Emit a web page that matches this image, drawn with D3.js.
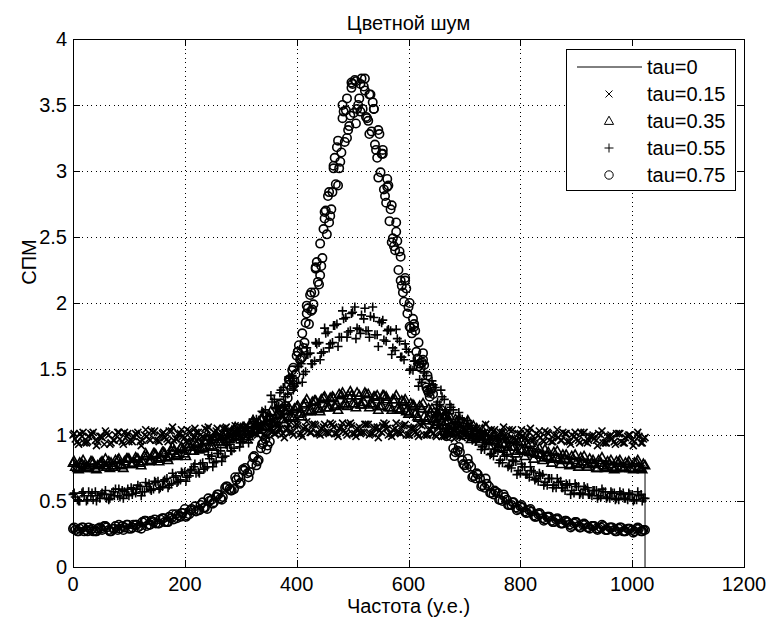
<!DOCTYPE html>
<html>
<head>
<meta charset="utf-8">
<script src="https://cdn.jsdelivr.net/npm/d3@7"></script>
<style>
  body { margin: 0; background: #fff; }
  text { font-family: "Liberation Sans", Arial, sans-serif; fill: #000; }
</style>
</head>
<body>
<div id="chart"></div>
<script>
// frequency bins, every 8th one plus the last
const freq = [0,8,16,24,32,40,48,56,64,72,80,88,96,104,112,120,128,136,144,152,160,168,176,184,192,200,208,216,224,232,240,248,
  256,264,272,280,288,296,304,312,320,328,336,344,352,360,368,376,384,392,400,408,416,424,432,440,448,456,464,472,480,488,496,504,
  512,520,528,536,544,552,560,568,576,584,592,600,608,616,624,632,640,648,656,664,672,680,688,696,704,712,720,728,736,744,752,760,
  768,776,784,792,800,808,816,824,832,840,848,856,864,872,880,888,896,904,912,920,928,936,944,952,960,968,976,984,992,1000,1008,1016,1023];
// the bins in between
const freqMid = [4,12,20,28,36,44,52,60,68,76,84,92,100,108,116,124,132,140,148,156,164,172,180,188,196,204,212,220,228,236,244,252,
  260,268,276,284,292,300,308,316,324,332,340,348,356,364,372,380,388,396,404,412,420,428,436,444,452,460,468,476,484,492,500,508,
  516,524,532,540,548,556,564,572,580,588,596,604,612,620,628,636,644,652,660,668,676,684,692,700,708,716,724,732,740,748,756,764,
  772,780,788,796,804,812,820,828,836,844,852,860,868,876,884,892,900,908,916,924,932,940,948,956,964,972,980,988,996,1004,1012,1020];
const freqEdge = [2,10,18,26,34,42,50,58,66,74,82,90,98,106,114,122,130,138,146,154,162,170,178,186,194,202,210,218,226,234,242,250,
  258,266,274,282,290,298,306,314,322,330,338,346,354,362,370,378,386,394,402,410,418,426,434,442,450,458,466,474,482,490,498,506,
  514,522,530,538,546,554,562,570,578,586,594,602,610,618,626,634,642,650,658,666,674,682,690,698,706,714,722,730,738,746,754,762,
  770,778,786,794,802,810,818,826,834,842,850,858,866,874,882,890,898,906,914,922,930,938,946,954,962,970,978,986,994,1002,1010,1018];
// extra bins around the tau=0.75 peak
const freqPeak = [386,390,394,398,402,406,410,414,418,422,426,430,434,438,442,446,450,454,458,462,466,470,474,478,482,486,490,494,498,502,506,510,
  514,518,522,526,530,534,538,542,546,550,554,558,562,566,570,574,578,582,586,590,594,598,602,606,610,614,618,622,626,630,634,638];

// tau = 0.15  (x)
const tau015 = [1.00,0.95,0.99,0.94,1.01,0.96,0.99,0.93,1.00,0.96,1.02,0.95,0.99,0.96,1.01,0.95,1.00,0.97,1.02,0.96,1.01,0.97,1.03,0.97,
  1.01,0.98,1.03,0.98,1.02,0.99,1.04,0.98,1.03,0.99,1.05,0.99,1.03,1.00,1.06,1.00,1.04,1.01,1.07,1.00,1.05,1.01,1.07,1.01,1.05,1.02,
  1.08,1.01,1.06,1.02,1.08,1.01,1.06,1.02,1.08,1.01,1.06,1.02,1.09,1.01,1.06,
  1.02,1.08,1.01,1.06,1.02,1.08,1.01,1.05,1.02,1.07,1.00,1.05,1.01,1.07,1.00,1.04,1.00,1.06,0.99,1.04,1.00,1.05,0.98,1.03,0.99,1.04,
  0.98,1.02,0.98,1.03,0.97,1.02,0.97,1.03,0.96,1.01,0.97,1.02,0.96,1.00,0.96,1.02,0.95,1.00,0.96,1.01,0.95,0.99,0.96,1.01,0.94,0.99,
  0.96,1.00,0.94,0.99,0.95,1.01,0.94,0.99,0.96,1.00,0.94,0.98];
const tau015Mid = [0.97,1.01,0.94,0.99,1.02,0.95,0.98,1.01,0.94,1.00,0.97,1.02,0.95,0.99,1.02,0.96,0.99,1.03,0.96,1.00,
  0.98,1.03,0.96,1.01,0.99,1.04,0.97,1.02,1.00,1.05,0.98,1.02,1.00,1.05,0.98,1.03,1.01,1.06,0.99,1.03,
  1.01,1.07,1.00,1.04,1.02,1.08,1.00,1.04,1.02,1.07,1.00,1.05,1.03,1.08,1.01,1.05,1.02,1.09,1.01,1.05,1.03,1.08,1.01,1.05,
  1.02,1.08,1.01,1.05,1.03,1.09,1.00,1.04,1.02,1.07,1.00,1.05,1.02,1.08,1.00,1.04,1.01,1.06,0.99,1.03,
  1.01,1.06,0.99,1.03,1.00,1.05,0.98,1.02,1.00,1.04,0.97,1.02,0.99,1.04,0.97,1.01,0.99,1.03,0.96,1.01,
  0.98,1.03,0.96,1.00,0.98,1.02,0.95,1.00,0.97,1.02,0.95,0.99,0.97,1.01,0.94,0.99,0.97,1.01,0.95,0.98,1.00,0.95,0.99,0.97];
const tau015Edge = [1.01,0.93,1.02,0.95,1.00,0.92,0.99,1.03,0.93,0.96,1.02,0.93,1.01,0.95,1.00,0.92,
  1.04,0.96,1.03,0.95,1.02,0.95,1.06,0.97,1.04,0.95,1.02,1.05,0.97,0.98,1.06,0.97,
  1.05,0.98,1.06,1.00,1.07,0.99,1.05,0.97,1.08,1.00,1.06,0.99,1.09,1.01,1.05,0.98,
  1.08,1.00,1.07,0.99,1.10,1.02,1.07,1.00,1.08,1.01,1.06,0.99,1.09,1.00,1.07,0.99,
  1.01,1.08,1.00,1.06,0.98,1.07,1.05,0.99,1.09,1.01,1.08,1.00,1.06,0.99,1.09,1.00,
  1.07,0.99,1.08,1.01,1.06,0.97,1.07,1.00,1.07,0.99,1.05,0.97,1.08,0.99,1.04,0.97,
  1.06,0.97,1.04,0.96,1.04,0.98,1.05,0.97,1.03,0.95,1.01,0.95,1.04,0.96,1.01,0.93,
  1.02,0.94,1.02,0.96,1.00,0.92,1.03,0.94,1.00,0.93,1.01,0.94,1.00,0.92,1.02,0.94];

// tau = 0.35  (triangles)
const tau035 = [0.79,0.75,0.78,0.76,0.80,0.75,0.78,0.77,0.80,0.76,0.81,0.77,0.82,0.78,0.83,0.79,0.84,0.80,0.86,0.82,0.87,0.83,0.88,0.85,
  0.90,0.86,0.93,0.88,0.94,0.91,0.96,0.92,0.99,0.95,1.01,0.97,1.04,0.99,1.06,1.02,1.09,1.04,1.12,1.07,1.14,1.09,1.17,1.12,1.19,1.14,
  1.21,1.17,1.24,1.18,1.26,1.20,1.28,1.21,1.29,1.23,1.30,1.24,1.33,1.24,1.30,
  1.25,1.31,1.23,1.30,1.22,1.29,1.21,1.27,1.19,1.25,1.16,1.23,1.14,1.20,1.11,1.17,1.08,1.14,1.05,1.11,1.02,1.08,1.00,1.05,0.97,1.02,
  0.95,0.99,0.92,0.96,0.90,0.94,0.88,0.91,0.86,0.89,0.84,0.87,0.82,0.86,0.81,0.84,0.79,0.83,0.78,0.82,0.77,0.81,0.76,0.80,0.76,0.79,
  0.75,0.79,0.75,0.78,0.74,0.79,0.75,0.78,0.75,0.79,0.75,0.77];
const tau035Mid = [0.76,0.79,0.77,0.75,0.79,0.77,0.80,0.76,0.79,0.81,0.78,0.80,0.82,0.79,0.82,0.80,0.84,0.81,0.85,0.83,0.86,0.84,0.88,0.86,
  0.89,0.91,0.88,0.93,0.90,0.95,0.92,0.97,0.95,1.00,0.97,1.03,0.99,1.05,1.01,1.08,1.04,1.10,1.06,1.13,1.09,1.15,1.12,1.18,1.14,1.20,
  1.16,1.23,1.18,1.25,1.20,1.27,1.21,1.28,1.22,1.31,1.23,1.30,1.24,1.32,
  1.23,1.31,1.24,1.29,1.22,1.30,1.21,1.27,1.20,1.26,1.18,1.24,1.16,1.22,1.14,1.20,1.12,1.17,1.10,1.15,1.07,1.12,1.05,1.09,1.02,1.07,
  1.00,1.04,0.97,1.02,0.95,0.99,0.93,0.97,0.91,0.95,0.89,0.93,0.87,0.90,0.85,0.89,0.83,0.87,0.82,0.85,0.81,0.84,0.79,0.83,0.78,0.82,
  0.78,0.81,0.77,0.80,0.76,0.80,0.76,0.79,0.75,0.79,0.76,0.78];
const tau035Edge = [0.80,0.74,0.81,0.75,0.80,0.74,0.79,0.82,0.75,0.77,0.82,0.75,0.82,0.78,0.82,0.77,
  0.86,0.81,0.86,0.80,0.87,0.81,0.91,0.84,0.91,0.84,0.91,0.95,0.89,0.90,0.99,0.91,
  0.99,0.93,1.02,0.98,1.06,0.99,1.06,0.99,1.11,1.04,1.12,1.06,1.18,1.10,1.16,1.09,
  1.21,1.13,1.22,1.14,1.27,1.19,1.26,1.18,1.29,1.21,1.28,1.19,1.32,1.22,1.30,1.21,
  1.23,1.32,1.21,1.29,1.19,1.30,1.27,1.19,1.30,1.20,1.27,1.17,1.22,1.13,1.24,1.13,
  1.20,1.10,1.18,1.10,1.14,1.03,1.12,1.04,1.11,1.00,1.05,0.97,1.06,0.96,1.00,0.93,
  1.00,0.91,0.96,0.88,0.95,0.88,0.94,0.86,0.90,0.83,0.87,0.82,0.88,0.81,0.85,0.78,
  0.85,0.78,0.84,0.78,0.81,0.75,0.83,0.76,0.81,0.75,0.81,0.75,0.80,0.74,0.81,0.74];

// tau = 0.55  (plus)
const tau055 = [0.55,0.51,0.56,0.50,0.54,0.57,0.52,0.55,0.51,0.57,0.54,0.58,0.55,0.60,0.56,0.61,0.57,0.63,0.59,0.65,0.61,0.67,0.63,0.69,
  0.66,0.72,0.69,0.76,0.72,0.79,0.76,0.84,0.80,0.88,0.84,0.93,0.90,0.99,0.95,1.05,1.01,1.12,1.08,1.19,1.15,1.27,1.22,1.36,1.31,1.45,
  1.39,1.54,1.48,1.62,1.56,1.70,1.63,1.78,1.70,1.84,1.74,1.89,1.79,1.97,1.80,
  1.88,1.79,1.97,1.76,1.85,1.71,1.79,1.64,1.71,1.57,1.63,1.49,1.54,1.40,1.45,1.32,1.36,1.23,1.27,1.16,1.19,1.08,1.12,1.01,1.05,0.95,
  0.99,0.89,0.93,0.84,0.88,0.79,0.84,0.75,0.80,0.71,0.76,0.68,0.72,0.65,0.70,0.62,0.67,0.60,0.65,0.58,0.63,0.56,0.61,0.55,0.60,0.54,
  0.58,0.53,0.57,0.52,0.56,0.51,0.56,0.51,0.55,0.51,0.55,0.52];
const tau055Mid = [0.53,0.50,0.54,0.57,0.51,0.54,0.56,0.52,0.55,0.59,0.53,0.57,0.54,0.59,0.62,0.57,0.61,0.58,0.64,0.60,0.66,0.62,0.68,0.65,
  0.71,0.68,0.74,0.71,0.78,0.75,0.82,0.79,0.86,0.83,0.92,0.88,0.97,0.94,1.03,1.00,1.10,1.06,1.17,1.14,1.25,1.21,1.34,1.29,
  1.43,1.37,1.52,1.46,1.61,1.54,1.69,1.62,1.77,1.69,1.83,1.74,1.88,1.78,1.93,1.81,
  1.91,1.79,1.90,1.76,1.86,1.72,1.80,1.66,1.73,1.59,1.65,1.50,1.56,1.42,1.47,1.33,1.38,1.25,1.29,1.17,1.21,1.10,1.13,1.03,1.07,0.97,
  1.00,0.91,0.94,0.86,0.89,0.81,0.84,0.77,0.80,0.73,0.76,0.70,0.73,0.67,0.69,0.64,0.67,0.62,0.64,0.60,0.62,0.58,0.61,0.56,0.59,0.55,
  0.58,0.54,0.57,0.53,0.56,0.52,0.55,0.52,0.55,0.51,0.54,0.52];
const tau055Edge = [0.56,0.50,0.57,0.51,0.56,0.50,0.55,0.58,0.52,0.54,0.59,0.52,0.59,0.55,0.59,0.54,
  0.64,0.59,0.65,0.59,0.65,0.60,0.71,0.64,0.72,0.65,0.73,0.78,0.71,0.74,0.85,0.76,
  0.86,0.80,0.93,0.88,1.00,0.91,1.03,0.94,1.12,1.04,1.18,1.10,1.30,1.20,1.32,1.23,
  1.44,1.34,1.52,1.40,1.66,1.54,1.70,1.57,1.81,1.66,1.83,1.67,1.94,1.74,1.92,1.73,
  1.77,1.96,1.74,1.89,1.67,1.87,1.79,1.61,1.80,1.59,1.69,1.49,1.56,1.37,1.54,1.33,
  1.41,1.23,1.34,1.19,1.23,1.06,1.17,1.03,1.11,0.96,1.01,0.89,1.00,0.85,0.89,0.79,
  0.87,0.76,0.81,0.70,0.78,0.70,0.76,0.66,0.71,0.62,0.67,0.60,0.67,0.60,0.63,0.55,
  0.63,0.55,0.61,0.55,0.58,0.52,0.59,0.52,0.57,0.51,0.57,0.52,0.56,0.50,0.57,0.50];

// tau = 0.75  (circles)
const tau075 = [0.29,0.27,0.30,0.28,0.28,0.27,0.30,0.31,0.28,0.29,0.28,0.31,0.32,0.29,0.32,0.31,0.35,0.32,0.34,0.33,0.37,0.34,0.37,0.40,
  0.38,0.44,0.40,0.43,0.43,0.49,0.44,0.51,0.53,0.52,0.60,0.59,0.59,0.68,0.74,0.71,0.78,0.77,0.90,0.97,0.95,1.06,1.23,1.19,1.28,1.49,
  1.60,1.58,1.85,2.06,2.08,2.14,2.56,2.81,2.84,3.18,3.14,3.46,3.42,3.69,3.55,
  3.64,3.38,3.52,3.10,3.13,2.76,2.71,2.40,2.39,2.01,1.97,1.88,1.58,1.55,1.36,1.35,1.17,1.16,1.02,1.03,0.90,0.88,0.81,0.75,0.76,0.67,
  0.67,0.60,0.61,0.55,0.56,0.50,0.51,0.47,0.45,0.46,0.42,0.43,0.39,0.40,0.37,0.38,0.35,0.36,0.33,0.35,0.32,0.33,0.31,0.32,0.30,0.31,
  0.29,0.30,0.28,0.30,0.28,0.29,0.27,0.29,0.28,0.29,0.27,0.28];
const tau075Mid = [0.28,0.29,0.27,0.30,0.27,0.29,0.28,0.30,0.27,0.31,0.29,0.30,0.29,0.32,0.30,0.34,0.31,0.35,0.33,0.36,0.34,0.38,0.36,0.39,
  0.41,0.39,0.44,0.42,0.47,0.45,0.50,0.49,0.55,0.53,0.61,0.58,0.66,0.64,0.75,0.72,0.84,0.81,0.94,0.92,1.07,1.05,1.24,1.22,
  1.42,1.41,1.68,1.66,1.96,1.95,2.31,2.28,2.70,2.66,3.10,3.02,3.45,3.31,3.66,3.47,
  3.70,3.41,3.58,3.20,3.28,2.86,2.89,2.49,2.47,2.13,2.11,1.81,1.79,1.54,1.53,1.32,1.31,1.14,1.13,0.99,0.99,0.87,0.87,0.77,0.78,0.69,
  0.70,0.62,0.63,0.56,0.57,0.51,0.53,0.47,0.49,0.44,0.45,0.41,0.42,0.38,0.40,0.36,0.38,0.34,0.36,0.33,0.34,0.31,0.34,0.30,0.32,0.29,
  0.31,0.29,0.31,0.28,0.30,0.27,0.30,0.27,0.29,0.27,0.29,0.28];
const tau075Edge = [0.30,0.27,0.30,0.27,0.29,0.27,0.29,0.31,0.27,0.29,0.32,0.28,0.32,0.30,0.32,0.29,
  0.35,0.32,0.36,0.33,0.37,0.34,0.40,0.37,0.41,0.38,0.43,0.46,0.43,0.45,0.52,0.48,
  0.55,0.51,0.61,0.58,0.68,0.63,0.73,0.68,0.83,0.80,0.93,0.89,1.09,1.04,1.19,1.16,
  1.42,1.38,1.63,1.59,1.98,1.94,2.27,2.21,2.69,2.61,3.02,2.89,3.50,3.25,3.67,3.36,
  3.45,3.70,3.28,3.47,2.95,3.16,2.88,2.46,2.61,2.17,2.19,1.82,1.82,1.52,1.62,1.34,
  1.36,1.13,1.19,1.01,1.02,0.84,0.91,0.78,0.82,0.68,0.71,0.61,0.67,0.56,0.58,0.51,
  0.55,0.47,0.49,0.43,0.47,0.41,0.44,0.38,0.41,0.35,0.38,0.34,0.37,0.33,0.35,0.30,
  0.34,0.30,0.33,0.30,0.31,0.28,0.32,0.28,0.30,0.27,0.30,0.27,0.29,0.26,0.30,0.27];
const tau075Peak = [1.38,1.35,1.51,1.46,1.63,1.57,1.77,1.70,1.92,1.84,2.08,1.99,2.26,2.16,2.45,2.34,2.64,2.52,2.84,2.71,3.04,2.90,3.23,3.07,
  3.40,3.22,3.55,3.34,3.63,3.44,3.68,3.50,
  3.66,3.47,3.61,3.40,3.58,3.30,3.47,3.16,3.31,2.99,3.13,2.81,2.94,2.62,2.74,2.43,2.54,2.25,2.35,2.08,2.17,1.92,2.00,1.77,
  1.84,1.63,1.70,1.51,1.57,1.39,1.45,1.29];

// tau = 0 (solid line, hidden under the markers except the drop at the end)
const tau0X = [0,128,256,384,512,640,768,896,1023,1023];
const tau0Y = [0.77,0.82,0.96,1.16,1.27,1.16,0.96,0.82,0.77,0];

const xTicks = [0,200,400,600,800,1000,1200];
const yTicks = [0,0.5,1,1.5,2,2.5,3,3.5,4];
const legendLabels = ["tau=0","tau=0.15","tau=0.35","tau=0.55","tau=0.75"];

const W = 769, H = 622;
const mLeft = 73, mRight = 744, mTop = 39, mBottom = 567;

const svg = d3.select("#chart").append("svg")
  .attr("width", W).attr("height", H);

svg.append("rect").attr("width", W).attr("height", H).attr("fill", "#fff");

const x = d3.scaleLinear().domain([0, 1200]).range([mLeft, mRight]);
const y = d3.scaleLinear().domain([0, 4]).range([mBottom, mTop]);

// grid
const grid = svg.append("g").attr("stroke", "#000").attr("stroke-width", 1)
  .attr("stroke-dasharray", "1,3.5").attr("shape-rendering", "crispEdges");
grid.selectAll(".gx").data(xTicks.slice(1, -1)).join("line")
  .attr("class", "gx")
  .attr("x1", d => Math.round(x(d)) + 0.5).attr("x2", d => Math.round(x(d)) + 0.5)
  .attr("y1", mBottom).attr("y2", mTop);
grid.selectAll(".gy").data(yTicks.slice(1, -1)).join("line")
  .attr("class", "gy")
  .attr("y1", d => Math.round(y(d)) + 0.5).attr("y2", d => Math.round(y(d)) + 0.5)
  .attr("x1", mLeft).attr("x2", mRight);

// marker shapes
function markerPath(type) {
  if (type === "x") return "M-3.5,-3.5L3.5,3.5M-3.5,3.5L3.5,-3.5";
  if (type === "tri") return "M0,-4.8L4.6,3.4L-4.6,3.4Z";
  if (type === "plus") return "M-4.5,0L4.5,0M0,-4.5L0,4.5";
  return "M4.2,0A4.2,4.2 0 1,1 -4.2,0A4.2,4.2 0 1,1 4.2,0Z";
}

const plotArea = svg.append("g");

// tau=0 line
const line = d3.line().x(d => x(d[0])).y(d => y(d[1]));
plotArea.append("path")
  .datum(tau0X.map((v, i) => [v, tau0Y[i]]))
  .attr("d", line).attr("fill", "none").attr("stroke", "#000").attr("stroke-width", 1);

function pairs(xs, vs) {
  return xs.map((f, i) => [f, vs[i]]).filter(d => d[1] !== undefined);
}

const series = [
  { pts: pairs(freq, tau015).concat(pairs(freqMid, tau015Mid), pairs(freqEdge, tau015Edge)), m: "x" },
  { pts: pairs(freq, tau035).concat(pairs(freqMid, tau035Mid), pairs(freqEdge, tau035Edge)), m: "tri" },
  { pts: pairs(freq, tau055).concat(pairs(freqMid, tau055Mid), pairs(freqEdge, tau055Edge)), m: "plus" },
  { pts: pairs(freq, tau075).concat(pairs(freqMid, tau075Mid), pairs(freqEdge, tau075Edge), pairs(freqPeak, tau075Peak)), m: "o" }
];

series.forEach(s => {
  plotArea.append("g").selectAll("path")
    .data(s.pts.sort((a, b) => a[0] - b[0]))
    .join("path")
    .attr("transform", d => `translate(${x(d[0])},${y(d[1])})`)
    .attr("d", markerPath(s.m))
    .attr("fill", "none").attr("stroke", "#000").attr("stroke-width", 1.6);
});

// axes box and ticks
const axG = svg.append("g").attr("shape-rendering", "crispEdges");
axG.append("rect").attr("x", mLeft + 0.5).attr("y", mTop + 0.5)
  .attr("width", mRight - mLeft).attr("height", mBottom - mTop)
  .attr("fill", "none").attr("stroke", "#000");

const tl = 7;
xTicks.forEach(t => {
  const px = Math.round(x(t)) + 0.5;
  axG.append("line").attr("x1", px).attr("x2", px).attr("y1", mBottom).attr("y2", mBottom - tl).attr("stroke", "#000");
  axG.append("line").attr("x1", px).attr("x2", px).attr("y1", mTop).attr("y2", mTop + tl).attr("stroke", "#000");
});
yTicks.forEach(t => {
  const py = Math.round(y(t)) + 0.5;
  axG.append("line").attr("x1", mLeft).attr("x2", mLeft + tl).attr("y1", py).attr("y2", py).attr("stroke", "#000");
  axG.append("line").attr("x1", mRight).attr("x2", mRight - tl).attr("y1", py).attr("y2", py).attr("stroke", "#000");
});

svg.append("g").selectAll("text").data(xTicks).join("text")
  .attr("x", d => x(d)).attr("y", 591)
  .attr("text-anchor", "middle").attr("font-size", 20)
  .text(d => d);

svg.append("g").selectAll("text").data(yTicks).join("text")
  .attr("x", 67).attr("y", d => y(d)).attr("dy", "0.36em")
  .attr("text-anchor", "end").attr("font-size", 20)
  .text(d => d);

// titles
svg.append("text").attr("x", (mLeft + mRight) / 2).attr("y", 30)
  .attr("text-anchor", "middle").attr("font-size", 20).text("Цветной шум");
svg.append("text").attr("x", (mLeft + mRight) / 2).attr("y", 613)
  .attr("text-anchor", "middle").attr("font-size", 20).text("Частота (у.е.)");
svg.append("text").attr("transform", "translate(36,262) rotate(-90)")
  .attr("text-anchor", "middle").attr("font-size", 20).text("СПМ");

// legend
const lg = svg.append("g");
lg.append("rect").attr("x", 566.5).attr("y", 49.5).attr("width", 169).attr("height", 141)
  .attr("fill", "#fff").attr("stroke", "#000").attr("shape-rendering", "crispEdges");
const rowY = [67, 94, 121, 148, 175];
legendLabels.forEach((lab, i) => {
  if (i === 0) {
    lg.append("line").attr("x1", 577).attr("x2", 642).attr("y1", rowY[i]).attr("y2", rowY[i])
      .attr("stroke", "#000");
  } else {
    lg.append("path").attr("transform", `translate(609,${rowY[i]})`)
      .attr("d", markerPath(series[i - 1].m)).attr("fill", "none").attr("stroke", "#000");
  }
  lg.append("text").attr("x", 647).attr("y", rowY[i]).attr("dy", "0.36em")
    .attr("font-size", 20).text(lab);
});
</script>
</body>
</html>
